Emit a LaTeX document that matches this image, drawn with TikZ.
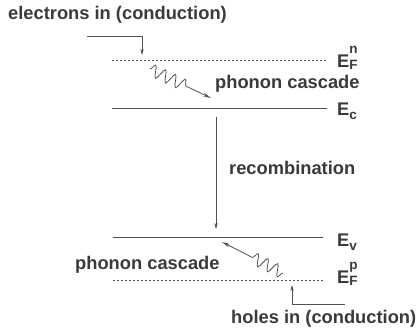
\documentclass[tikz,border=0pt]{standalone}
\usepackage{fontspec}
\setmainfont{Liberation Sans}
\usetikzlibrary{decorations.pathmorphing,arrows.meta}
\definecolor{ink}{HTML}{3A3A3A}
\definecolor{lineink}{HTML}{505050}
\newcommand\smallsz{\fontsize{13.5}{14}\selectfont}
\newcommand\levsub[1]{E\raisebox{-0.45ex}{\smallsz #1}}
\newcommand\levsubsup[2]{E\rlap{\raisebox{0.75em}{\smallsz #2}}\raisebox{-0.3ex}{\smallsz #1}}
\begin{document}
\begin{tikzpicture}[x=1pt,y=-1pt,
  lbl/.style={text=ink,font=\bfseries\fontsize{18.3}{20}\selectfont,inner sep=0pt},
  lev/.style={draw=lineink,line width=0.8pt},
  fermi/.style={draw=lineink,line width=0.7pt,dash pattern=on 1.5pt off 2.5pt},
  arr/.style={draw=lineink,line width=0.7pt,-{Stealth[length=6pt,width=3.5pt]}},
  wav/.style={draw=lineink,line width=0.8pt,-{Stealth[length=8pt,width=3.5pt]},
    decorate,decoration={snake,amplitude=6pt,segment length=11pt,post length=#1}}]
\useasboundingbox (0,0) rectangle (416,330);
% levels
\coordinate (fnL) at (112,60); \coordinate (fnR) at (327,60);
\coordinate (ecL) at (112,108); \coordinate (ecR) at (327,108);
\coordinate (evL) at (113,237); \coordinate (evR) at (323,237);
\coordinate (fpL) at (113,280); \coordinate (fpR) at (325,280);
\draw[fermi] (fnL) -- (fnR);
\draw[lev] (ecL) -- (ecR);
\draw[lev] (evL) -- (evR);
\draw[fermi] (fpL) -- (fpR);
% labels
\node[lbl,anchor=base west] (lfn) at (337,67) {\levsubsup{F}{n}};
\node[lbl,anchor=base west] (lec) at (337,115) {\levsub{c}};
\node[lbl,anchor=base west] (lev) at (337,246) {\levsub{v}};
\node[lbl,anchor=base west] (lfp) at (337,283) {\levsubsup{F}{p}};
\node[lbl,anchor=base west] (ein) at (8,19) {electrons in (conduction)};
\node[lbl,anchor=base west] (pc1) at (215,88) {phonon cascade};
\node[lbl,anchor=base west] (rec) at (229,174) {recombination};
\node[lbl,anchor=base west] (pc2) at (75,269) {phonon cascade};
\node[lbl,anchor=base west] (hin) at (231,323) {holes in (conduction)};
% electrons in
\coordinate (e0) at (87,36); \coordinate (e1) at (142,36); \coordinate (e2) at (142,55);
\draw[arr] (e0) -- (e1) -- (e2);
% holes in
\coordinate (h0) at (345,304); \coordinate (h1) at (292,304); \coordinate (h2) at (292,285);
\draw[arr] (h0) -- (h1) -- (h2);
% recombination
\coordinate (r0) at (216,117); \coordinate (r1) at (216,229);
\draw[arr] (r0) -- (r1);
% phonon cascades
\coordinate (w0) at (150,69); \coordinate (w1) at (211,98);
\draw[wav=26pt] (w0) -- (w1);
\coordinate (w2) at (283,273); \coordinate (w3) at (222,242);
\draw[wav=30pt] (w2) -- (w3);
\end{tikzpicture}
\end{document}
